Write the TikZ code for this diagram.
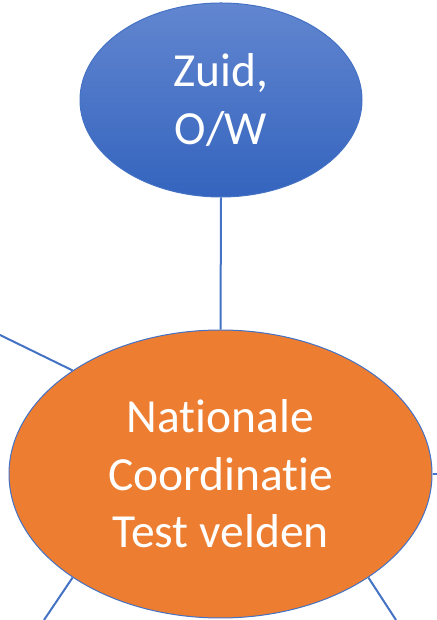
\documentclass[tikz,border=0pt]{standalone}
\usepackage{fontspec}
\setmainfont[Ligatures=NoCommon]{Carlito}
\usetikzlibrary{shapes.geometric}
\definecolor{obl}{HTML}{4472C4}
\definecolor{oor}{HTML}{ED7D31}
\definecolor{btop}{RGB}{98,134,208}
\definecolor{bbot}{RGB}{52,100,190}
\tikzset{
  bubble/.style={ellipse, inner sep=0pt, align=center, text=white,
    font=\fontsize{47.5}{57.5}\selectfont, draw=obl, line width=1pt},
  link/.style={draw=obl, line width=2pt}
}
\begin{document}
\begin{tikzpicture}[x=1pt,y=1pt]
\useasboundingbox (0,0) rectangle (436,620);
\node[bubble, minimum width=282pt, minimum height=194pt,
  top color=btop, bottom color=bbot] (zuid) at (221,520) {Zuid,\\O/W};
\node[bubble, minimum width=423pt, minimum height=288pt, fill=oor]
  (nat) at (220.5,146) {Nat\kern0pt ionale\\Coordinat\kern0pt ie\\Test velden};
\coordinate (tl) at (0,285);
\coordinate (bl) at (44,0);
\coordinate (br) at (396,0);
\coordinate (rr) at (440,146);
\draw[link] (zuid.south) -- (nat.north);
\draw[link] (tl) -- (nat.145.8);
\draw[link] (bl) -- (nat.215);
\draw[link] (br) -- (nat.325.4);
\draw[link] (rr) -- (nat.east);
\end{tikzpicture}
\end{document}
